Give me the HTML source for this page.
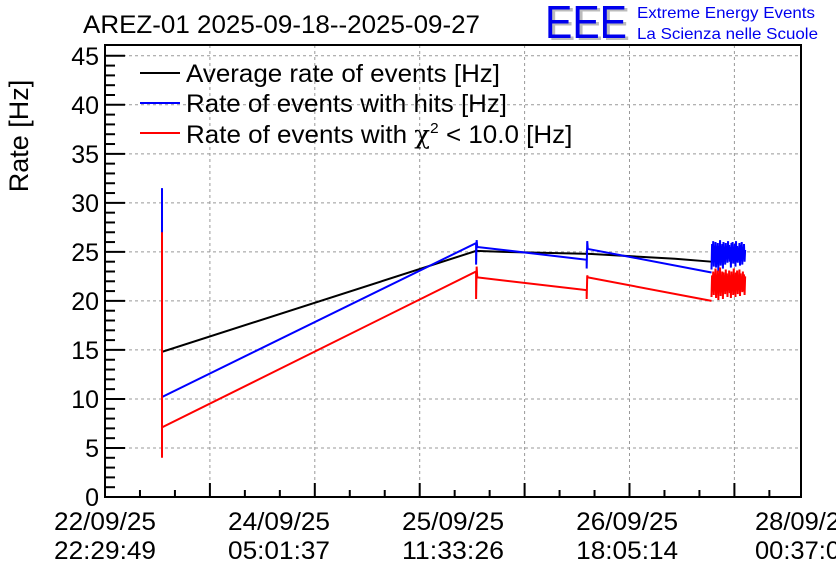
<!DOCTYPE html>
<html><head><meta charset="utf-8"><style>
body{margin:0;background:#fff;}
svg{display:block;font-family:"Liberation Sans",sans-serif;}
</style></head><body>
<svg id="chart" width="836" height="572">
<rect width="836" height="572" fill="#fff"/>
<text x="83" y="33" font-size="25" textLength="397" lengthAdjust="spacingAndGlyphs">AREZ-01 2025-09-18--2025-09-27</text>
<g>
<text x="548" y="40" font-size="46" fill="#bbb" textLength="82" lengthAdjust="spacingAndGlyphs">EEE</text>
<text x="545" y="38" font-size="46" fill="#0000ee" textLength="82" lengthAdjust="spacingAndGlyphs">EEE</text>
<text x="637" y="18" font-size="16" fill="#0000ee" textLength="178" lengthAdjust="spacingAndGlyphs">Extreme Energy Events</text>
<text x="637" y="39" font-size="16" fill="#0000ee" textLength="181" lengthAdjust="spacingAndGlyphs">La Scienza nelle Scuole</text>
</g>
<text transform="translate(28,136) rotate(-90)" text-anchor="middle" font-size="27">Rate [Hz]</text>
<g id="grid"></g><g id="axes"></g><g id="series"></g>
<g>
<g><line x1="140" y1="73" x2="180" y2="73" stroke="#000" stroke-width="2"/><text x="186" y="82" font-size="25" textLength="314" lengthAdjust="spacingAndGlyphs">Average rate of events [Hz]</text></g>
<g><line x1="140" y1="103" x2="180" y2="103" stroke="#00f" stroke-width="2"/><text x="186" y="112" font-size="25" textLength="321" lengthAdjust="spacingAndGlyphs">Rate of events with hits [Hz]</text></g>
<g><line x1="140" y1="133" x2="180" y2="133" stroke="#f00" stroke-width="2"/><text transform="translate(186,0) scale(1.04,1) translate(-186,0)" x="186" y="143" font-size="25">Rate of events with <tspan font-family="'DejaVu Serif',serif">χ</tspan><tspan font-size="15" dy="-10">2</tspan><tspan dy="10"> &lt; 10.0 [Hz]</tspan></text></g>
</g>
</svg>
<script>
const yTicks=[0,5,10,15,20,25,30,35,40,45];
const xLabelsDate=["22/09/25","24/09/25","25/09/25","26/09/25","28/09/2"];
const xLabelsTime=["22:29:49","05:01:37","11:33:26","18:05:14","00:37:0"];
const xLabelHours=[0,30.53,61.06,91.6,122.1];
const blackT=[10,10,65.1,70,85,100,106.4];
const blackV=[31,14.8,25.1,25.0,24.8,24.3,24.0];
const blueT=[10,10,10,65.1,65.1,65.2,65.3,84.5,84.5,84.6,84.7,106.4];
const blueV=[31.5,10.2,10.2,25.9,23.7,26.2,25.5,24.2,23.3,26.1,25.3,22.9];
const redT=[10,10,10,65.1,65.1,65.2,65.3,84.5,84.5,84.6,84.7,106.4];
const redV=[27,4,7.1,23.0,20.2,23.5,22.4,21.1,20.2,22.6,22.4,20.0];
const blueNoise=[23.2,25.8,24.0,26.1,23.5,25.5,24.4,26.0,23.4,25.2,24.6,25.9,23.0,25.6,24.2,26.2,23.6,25.3,24.8,25.8,23.3,26.0,24.1,25.4,23.7,25.9,24.5,25.6,23.9,26.1,24.3,25.7,24.0,25.5,23.4,25.9,24.2,26.0,23.8,25.4,24.6,25.8,23.5,26.1,24.0,25.6,23.9,25.3,24.4,25.9,23.6,25.7,24.1,26.0,23.7,25.5,24.3,25.8,24.0,25.2];
const redNoise=[20.4,22.6,21.0,23.0,20.6,22.8,21.4,23.3,20.3,22.4,21.2,23.1,20.1,22.7,21.6,23.4,20.5,22.5,21.1,23.0,20.2,22.9,21.3,22.6,20.7,23.2,21.0,22.8,20.4,22.5,21.5,23.1,20.8,22.6,20.3,23.0,21.2,22.7,20.6,23.3,21.0,22.5,20.4,22.9,21.4,23.1,20.7,22.6,21.1,23.2,20.5,22.8,21.3,22.4,20.9,23.0,21.0,22.7,20.6,22.5];
const noiseStart=106.4, noiseEnd=112.3;
const L=105,R=801,T=45,B=497,ymax=46.1,xmax=122.1;
const X=h=>L+h/xmax*(R-L), Y=v=>B-v/ymax*(B-T);
const NS="http://www.w3.org/2000/svg";
function mk(tag,attrs,parent){const e=document.createElementNS(NS,tag);for(const k in attrs)e.setAttribute(k,attrs[k]);parent.appendChild(e);return e;}
const grid=document.getElementById('grid'),axes=document.getElementById('axes'),ser=document.getElementById('series');
for(let i=1;i<=6;i++){const x=L+i*104.9;const g=mk('line',{x1:x,y1:T,x2:x,y2:B,stroke:'#999','stroke-dasharray':'3,3'},grid);}
yTicks.forEach(v=>{if(v>0){const g=mk('line',{x1:L,y1:Y(v),x2:R,y2:Y(v),stroke:'#999','stroke-dasharray':'3,3'},grid);}
 mk('line',{x1:L,y1:Y(v),x2:L+20,y2:Y(v),stroke:'#000','stroke-width':2},axes);
 const t=mk('text',{x:99,y:Y(v)+9,'text-anchor':'end','font-size':25},axes);t.textContent=v;
 });
for(let v=1;v<46;v++){if(v%5)mk('line',{x1:L,y1:Y(v),x2:L+10,y2:Y(v),stroke:'#000','stroke-width':2},axes);}
for(let i=0;i<=20;i++){const x=L+i*104.9/3;if(x>R)break;mk('line',{x1:x,y1:B,x2:x,y2:B-(i%3?7:14),stroke:'#000','stroke-width':2},axes);}
mk('rect',{x:L,y:T,width:R-L,height:B-T,fill:'none',stroke:'#000','stroke-width':2},axes);
xLabelHours.forEach((h,i)=>{const x=X(h);
 const last=i==4;
 const a=mk('text',{x:last?755:x-51,y:530,'font-size':25,textLength:last?85:102,lengthAdjust:'spacingAndGlyphs'},axes);a.textContent=xLabelsDate[i];
 
 const b=mk('text',{x:last?755:x-51,y:559,'font-size':25,textLength:last?85:102,lengthAdjust:'spacingAndGlyphs'},axes);b.textContent=xLabelsTime[i];
 });
function line(ts,vs,col,name){const p=mk('polyline',{points:ts.map((t,i)=>X(t)+','+Y(vs[i])).join(' '),fill:'none',stroke:col,'stroke-width':2},ser);
 }
function noise(vs,col,name){const ts=vs.map((v,i)=>noiseStart+i*(noiseEnd-noiseStart)/(vs.length-1));line(ts,vs,col,name);}
line(blackT,blackV,'#000','average-rate-line');
line(blueT,blueV,'#00f','hits-rate-line');
line(redT,redV,'#f00','chi2-rate-line');
noise(blueNoise,'#00f','hits-rate-noise');
noise(redNoise,'#f00','chi2-rate-noise');
</script>
</body></html>
